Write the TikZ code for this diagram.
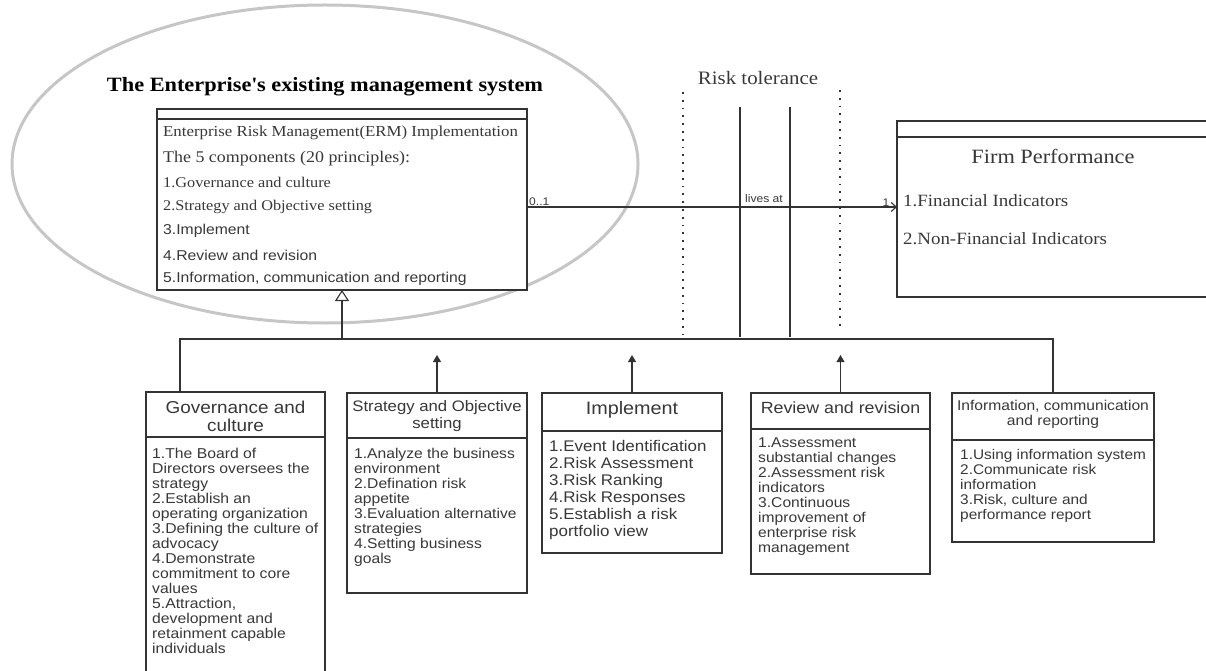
\documentclass[tikz,border=0pt]{standalone}
\usepackage{fontspec}
\setmainfont[FakeStretch=1.1]{Liberation Serif}
\setsansfont[FakeStretch=1.1]{Liberation Sans}
\usetikzlibrary{arrows.meta,shapes.geometric}

\definecolor{linegray}{HTML}{333333}
\definecolor{textgray}{HTML}{383838}
\definecolor{ringgray}{HTML}{C6C6C6}

\newcommand{\fs}[2]{\fontsize{#1}{#2}\selectfont}

\tikzset{
	classbox/.style={draw=linegray, line width=1.1pt, fill=white, anchor=north west, inner sep=0pt, outer sep=0pt},
	boxline/.style={draw=linegray, line width=1.1pt},
	headtext/.style={align=center, inner sep=0pt, text=textgray},
	bodytext/.style={anchor=north west, align=left, inner sep=0pt, text=textgray},
	itemtext/.style={anchor=west, inner sep=0pt, text=textgray},
	inherit/.style={boxline, -{Triangle[open, fill=white, length=11pt, width=14pt]}},
	uparrow/.style={boxline, -{Triangle[length=7pt, width=8pt]}},
	assoc/.style={boxline, -{Straight Barb[length=5pt, width=9pt]}},
	tolerance/.style={draw=linegray, line width=1.8pt, dash pattern=on 1.8pt off 6pt},
	smalllabel/.style={inner sep=0pt, text=textgray, font=\sffamily\fs{11}{12}}
}

\begin{document}
\begin{tikzpicture}[x=1pt, y=-1pt]
	
	\clip (0,0) rectangle (1206,671);
	
	% the existing management system
	\node[draw=ringgray, line width=3pt, ellipse, minimum width=626pt, minimum height=318pt, inner sep=0pt] (scope) at (325,164) {};
	\node[inner sep=0pt, font=\bfseries\fs{20.3}{22}] (scopetitle) at (325,87) {The Enterprise\textquotesingle s existing management system};
	
	% ERM class
	\node[classbox, minimum width=370pt, minimum height=181pt] (erm) at (157,109) {};
	\draw[boxline] ([yshift=-10pt]erm.north west) -- ([yshift=-10pt]erm.north east);
	\node[itemtext, font=\fs{15.3}{17}] (erm1) at (163,133) {Enterprise Risk Management(ERM) Implementation};
	\node[itemtext, font=\fs{16.3}{18}] (erm2) at (163,159) {The 5 components (20 principles):};
	\node[itemtext, font=\fs{14.8}{16}] (erm3) at (163,182) {1.Governance and culture};
	\node[itemtext, font=\fs{14.8}{16}] (erm4) at (163,207) {2.Strategy and Objective setting};
	\node[itemtext, font=\sffamily\fs{14.3}{16}] (erm5) at (163,231) {3.Implement};
	\node[itemtext, font=\sffamily\fs{14.3}{16}] (erm6) at (163,255) {4.Review and revision};
	\node[itemtext, font=\sffamily\fs{14.3}{16}] (erm7) at (163,279) {5.Information, communication and reporting};
	
	% firm performance class
	\node[classbox, minimum width=318pt, minimum height=176pt] (firm) at (897,121) {};
	\draw[boxline] ([yshift=-16pt]firm.north west) -- ([yshift=-16pt]firm.north east);
	\node[headtext, font=\fs{20.3}{22}] (firmtitle) at (1053,156) {Firm Performance};
	\node[itemtext, font=\fs{17.2}{19}] (firm1) at (903,201) {1.Financial Indicators};
	\node[itemtext, font=\fs{17.2}{19}] (firm2) at (903,239) {2.Non-Financial Indicators};
	
	% risk tolerance band
	\node[inner sep=0pt, text=textgray, font=\fs{19}{21}] (riskt) at (758,78) {Risk tolerance};
	\draw[tolerance] (683,92) -- (683,335);
	\draw[tolerance] (840,90) -- (840,327);
	\draw[boxline] (740,107) -- (740,337);
	\draw[boxline] (790,107) -- (790,337);
	
	% association
	\coordinate (assocend) at ([yshift=2pt]firm.west);
	\draw[assoc] (erm.east |- assocend) -- (assocend);
	\node[smalllabel, anchor=west] (multfrom) at (529,202) {0..1};
	\node[smalllabel] (livesat) at (764,199) {lives at};
	\node[smalllabel] (multto) at (886,203) {1};
	
	% the five components
	\node[classbox, minimum width=179pt, minimum height=330pt] (gov) at (146,392) {};
	\draw[boxline] ([yshift=-45pt]gov.north west) -- ([yshift=-45pt]gov.north east);
	\node[headtext, font=\sffamily\fs{17.2}{18}] (govtitle) at (235.5,416) {Governance and\\culture};
	\node[bodytext, font=\sffamily\fs{14.3}{15}] (govbody) at (152,447.7) {1.The Board of\\Directors oversees the\\strategy\\2.Establish an\\operating organization\\3.Defining the culture of\\advocacy\\4.Demonstrate\\commitment to core\\values\\5.Attraction,\\development and\\retainment capable\\individuals};
	
	\node[classbox, minimum width=180pt, minimum height=200pt] (strat) at (347,393) {};
	\draw[boxline] ([yshift=-45pt]strat.north west) -- ([yshift=-45pt]strat.north east);
	\node[headtext, font=\sffamily\fs{15.2}{17}] (strattitle) at (437,416.5) {Strategy and Objective\\setting};
	\node[bodytext, font=\sffamily\fs{14.2}{15}] (stratbody) at (354,447.7) {1.Analyze the business\\environment\\2.Defination risk\\appetite\\3.Evaluation alternative\\strategies\\4.Setting business\\goals};
	
	\node[classbox, minimum width=180pt, minimum height=160pt] (impl) at (542,393) {};
	\draw[boxline] ([yshift=-38pt]impl.north west) -- ([yshift=-38pt]impl.north east);
	\node[headtext, font=\sffamily\fs{18}{20}] (impltitle) at (632,410) {Implement};
	\node[bodytext, font=\sffamily\fs{15.4}{17}] (implbody) at (549,440.3) {1.Event Identification\\2.Risk Assessment\\3.Risk Ranking\\4.Risk Responses\\5.Establish a risk\\portfolio view};
	
	\node[classbox, minimum width=179pt, minimum height=181pt] (review) at (751,393) {};
	\draw[boxline] ([yshift=-36pt]review.north west) -- ([yshift=-36pt]review.north east);
	\node[headtext, font=\sffamily\fs{16.2}{18}] (reviewtitle) at (840.5,408) {Review and revision};
	\node[bodytext, font=\sffamily\fs{14.2}{15}] (reviewbody) at (758,437.7) {1.Assessment\\substantial changes\\2.Assessment risk\\indicators\\3.Continuous\\improvement of\\enterprise risk\\management};
	
	\node[classbox, minimum width=202pt, minimum height=149pt] (info) at (952,393) {};
	\draw[boxline] ([yshift=-47pt]info.north west) -- ([yshift=-47pt]info.north east);
	\node[headtext, font=\sffamily\fs{14.2}{15}] (infotitle) at (1053,414.5) {Information, communication\\and reporting};
	\node[bodytext, font=\sffamily\fs{14}{15}] (infobody) at (960,448.8) {1.Using information system\\2.Communicate risk\\information\\3.Risk, culture and\\performance report};
	
	% generalisation tree
	\coordinate (hub) at (342,339);
	\coordinate (tips) at (0,355);
	\draw[boxline] ([xshift=34pt]gov.north west) |- (hub) -| (info.north);
	\draw[inherit] (hub) -- (hub |- erm.south);
	\draw[uparrow] (strat.north) -- (strat.north |- tips);
	\draw[uparrow] (impl.north) -- (impl.north |- tips);
	\draw[uparrow] (review.north) -- (review.north |- tips);
	
\end{tikzpicture}
\end{document}
